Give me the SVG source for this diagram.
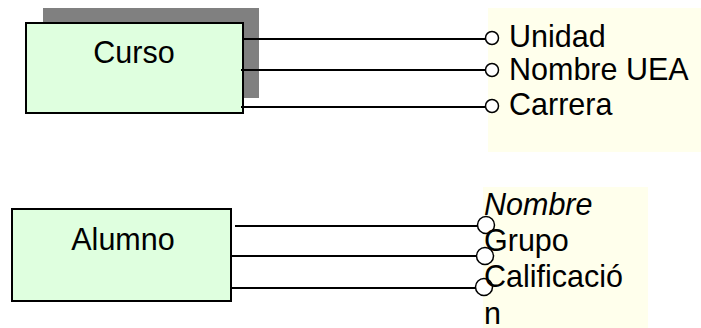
<svg xmlns="http://www.w3.org/2000/svg" width="701" height="328" viewBox="0 0 701 328">
<style>
.ent{fill:#DFFFDF;stroke:#000;stroke-width:2}
.attrbg{fill:#FFFFEC;stroke:none}
.t{font-family:"Liberation Sans",Arial,sans-serif;font-size:30.5px;fill:#000}
.c{fill:#fff;stroke:#000;stroke-width:1.5}
.ln{stroke:#000;stroke-width:2;fill:none}
</style>
<rect class="attrbg" x="488" y="8" width="213" height="144"/>
<rect class="attrbg" x="483" y="187" width="165" height="141"/>
<g id="curso">
<rect x="43" y="8" width="216" height="90" fill="#808080"/>
<rect class="ent" x="26" y="23" width="217" height="90"/>
<text class="t" x="134" y="63" text-anchor="middle">Curso</text>
</g>
<g id="alumno">
<rect class="ent" x="12" y="209" width="219" height="92"/>
<text class="t" x="123" y="250" text-anchor="middle">Alumno</text>
</g>
<g id="connectors">
<line class="ln" x1="243" y1="39" x2="485" y2="39"/>
<line class="ln" x1="241" y1="70" x2="485" y2="70"/>
<line class="ln" x1="241" y1="107" x2="485" y2="107"/>
<line class="ln" x1="235" y1="226" x2="478" y2="226"/>
<line class="ln" x1="231" y1="256" x2="478" y2="256"/>
<line class="ln" x1="231" y1="288" x2="476" y2="288"/>
<circle class="c" cx="492" cy="38" r="6.5"/>
<circle class="c" cx="492" cy="70" r="6.5"/>
<circle class="c" cx="492" cy="106" r="6.5"/>
<circle class="c" cx="486" cy="225" r="8.5"/>
<circle class="c" cx="485" cy="256" r="8.5"/>
<circle class="c" cx="484" cy="287" r="8.5"/>
</g>
<g id="attrs-curso">
<text class="t" x="509" y="47">Unidad</text>
<text class="t" x="509" y="80">Nombre UEA</text>
<text class="t" x="509" y="115">Carrera</text>
</g>
<g id="attrs-alumno">
<text class="t" x="484" y="215" font-style="italic">Nombre</text>
<text class="t" x="484" y="251">Grupo</text>
<text class="t" x="484" y="287">Calificació</text>
<text class="t" x="484" y="324">n</text>
</g>
</svg>
